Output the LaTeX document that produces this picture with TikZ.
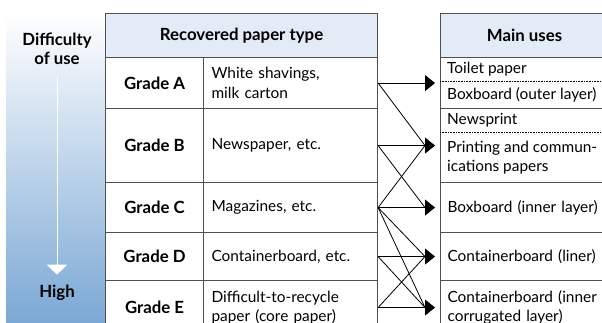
\documentclass[tikz,border=0pt]{standalone}
\usepackage{fontspec}
\setmainfont{Lato}
\usetikzlibrary{arrows.meta}

\definecolor{headblue}{RGB}{226,235,246}
\definecolor{barblue}{RGB}{118,165,211}
\definecolor{rulegray}{RGB}{80,80,80}

\newcommand{\cellfont}{\fontsize{15.4}{19.5}\selectfont}
\newcommand{\headfont}{\fontsize{16.8}{19}\selectfont\bfseries}

\tikzset{
  cell/.style={draw=rulegray, line width=1.1pt, anchor=north west, inner sep=0pt, font=\cellfont},
  headcell/.style={cell, fill=headblue, font=\headfont},
  gradecell/.style={cell, minimum width=98pt, font=\headfont},
  desccell/.style={cell, minimum width=174pt, text width=158pt, inner xsep=8pt, align=left},
  usecell/.style={cell, minimum width=168pt, text width=154pt, inner xsep=7pt, align=left},
  subuse/.style={anchor=west, font=\cellfont, inner xsep=7pt, inner ysep=0pt, align=left},
  sublines/.style={line width=0.6pt, dash pattern=on 0.8pt off 0.8pt},
  link/.style={line width=0.8pt, -{Triangle[length=10pt,width=16pt]}},
  crosslink/.style={line width=0.8pt},
}

\begin{document}
\begin{tikzpicture}[x=1pt, y=-1pt]
    \useasboundingbox (0,0) rectangle (602,322);
    \clip (0,0) rectangle (602,322);

    % DIFFICULTY BAR
    \shade[top color=white, bottom color=barblue] (6,13) rectangle (105,334);
    \node[font=\headfont, align=center] (difftop) at (57,49) {Difficulty\\of use};
    \node[font=\headfont] (diffhigh) at (57,293) {High};
    \draw[white, line width=1pt, -{Triangle[length=10pt,width=20pt]}, shorten <=8pt, shorten >=7pt] (difftop.south) -- (diffhigh.north);

    % RECOVERED PAPER TABLE
    \node[headcell, minimum width=272pt, minimum height=44pt] (typehead) at (105,13) {Recovered paper type};
    \node[gradecell, minimum height=51pt] (gradeA) at (105,57) {Grade A};
    \node[desccell, minimum height=51pt] (descA) at (203,57) {White shavings,\\milk carton};
    \node[gradecell, minimum height=74pt] (gradeB) at (105,108) {Grade B};
    \node[desccell, minimum height=74pt] (descB) at (203,108) {Newspaper, etc.};
    \node[gradecell, minimum height=50pt] (gradeC) at (105,182) {Grade C};
    \node[desccell, minimum height=50pt] (descC) at (203,182) {Magazines, etc.};
    \node[gradecell, minimum height=48pt] (gradeD) at (105,232) {Grade D};
    \node[desccell, minimum height=48pt] (descD) at (203,232) {Containerboard, etc.};
    \node[gradecell, minimum height=54pt] (gradeE) at (105,280) {Grade E};
    \node[desccell, minimum height=54pt] (descE) at (203,280) {Difficult-to-recycle\\paper (core paper)};

    % MAIN USES TABLE
    \node[headcell, minimum width=168pt, minimum height=44pt] (usehead) at (440,13) {Main uses};
    \node[usecell, minimum height=51pt] (use1) at (440,57) {};
    \node[usecell, minimum height=74pt] (use2) at (440,108) {};
    \node[usecell, minimum height=50pt] (use3) at (440,182) {Boxboard (inner layer)};
    \node[usecell, minimum height=48pt] (use4) at (440,232) {Containerboard (liner)};
    \node[usecell, minimum height=54pt] (use5) at (440,280) {Containerboard (inner\\corrugated layer)};

    % SUB-ENTRIES
    \draw[sublines] (440,81) -- (608,81);
    \draw[sublines] (440,132) -- (608,132);
    \node[subuse] (toilet) at (440,69.5) {Toilet paper};
    \node[subuse] (outer) at (440,95) {Boxboard (outer layer)};
    \node[subuse] (newsprint) at (440,120) {Newsprint};
    \node[subuse] (printing) at (440,157.5) {Printing and commun-\\ications papers};

    % ARROWS
    \foreach \k in {1,...,5} {
        \coordinate (tip\k) at ([xshift=-5pt]use\k.west);
        \coordinate (base\k) at ([xshift=-15pt]use\k.west);
    }
    \foreach \src/\k in {descA/1, descB/2, descC/3, descD/4, descE/5}
        \draw[link] (\src.east) -- (tip\k);
    \foreach \src/\k in {descA/2, descB/3, descC/2, descC/4, descC/5, descD/5, descE/4}
        \draw[crosslink] (\src.east) -- (base\k);

\end{tikzpicture}
\end{document}
